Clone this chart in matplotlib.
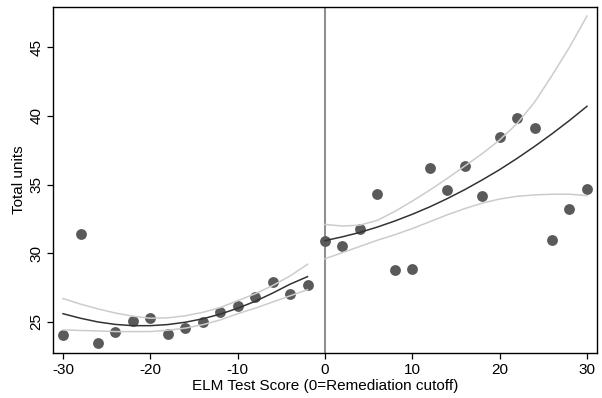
import numpy as np
import matplotlib.pyplot as plt

plt.rcParams['font.family'] = ['Liberation Sans', 'DejaVu Sans']
plt.rcParams['axes.unicode_minus'] = False

# binned means of total units by ELM score
x_left = [-30, -28, -26, -24, -22, -20, -18, -16, -14, -12, -10, -8, -6, -4, -2]
y_left = [24.05, 31.4, 23.45, 24.3, 25.1, 25.3, 24.1, 24.55, 25.0, 25.7, 26.15, 26.8, 27.9, 27.05, 27.7]
x_right = [0, 2, 4, 6, 8, 10, 12, 14, 16, 18, 20, 22, 24, 26, 28, 30]
y_right = [30.9, 30.5, 31.75, 34.3, 28.8, 28.85, 36.2, 34.6, 36.35, 34.2, 38.5, 39.85, 39.15, 31.0, 33.25, 34.7]

# fitted values and confidence bands on each side of the cutoff
fit_left = [25.6, 25.27, 25.0, 24.82, 24.73, 24.73, 24.81, 24.98, 25.23, 25.57, 26.0, 26.5, 27.1, 27.75, 28.3]
hi_left = [26.7, 26.3, 25.95, 25.65, 25.42, 25.27, 25.3, 25.45, 25.7, 26.05, 26.55, 27.05, 27.65, 28.35, 29.2]
lo_left = [24.42, 24.38, 24.35, 24.3, 24.3, 24.3, 24.4, 24.55, 24.8, 25.15, 25.6, 26.0, 26.45, 26.9, 27.35]
fit_right = [30.92, 31.2, 31.52, 31.91, 32.35, 32.84, 33.38, 33.98, 34.63, 35.34, 36.09, 36.91, 37.78, 38.7, 39.67, 40.7]
hi_right = [32.1, 31.98, 32.05, 32.4, 33.05, 33.8, 34.6, 35.45, 36.35, 37.25, 38.25, 39.45, 41.0, 42.95, 45.0, 47.27]
lo_right = [29.6, 30.05, 30.5, 30.95, 31.35, 31.8, 32.3, 32.8, 33.25, 33.65, 33.95, 34.15, 34.25, 34.3, 34.3, 34.2]

fig = plt.figure(figsize=(6.02, 3.98), dpi=100)
ax = fig.add_axes([53/602, 45/398, 544/602, 346/398])

ax.axvline(0, color='#909090', lw=1.5, zorder=1)
ax.plot(x_left, y_left, 'o', color='#5a5a5a', ms=7.8, mec='none', zorder=2)
ax.plot(x_right, y_right, 'o', color='#5a5a5a', ms=7.8, mec='none', zorder=2)

for xs, fit, hi, lo in [(x_left, fit_left, hi_left, lo_left),
                        (x_right, fit_right, hi_right, lo_right)]:
    ax.plot(xs, hi, color='#cccccc', lw=1.1, zorder=3)
    ax.plot(xs, lo, color='#cccccc', lw=1.1, zorder=3)
    ax.plot(xs, fit, color='#333333', lw=1.1, zorder=4)

ax.set_xlim(-31.15, 31.15)
ax.set_ylim(22.74, 47.93)
ax.set_xticks([-30, -20, -10, 0, 10, 20, 30])
ax.set_yticks([25, 30, 35, 40, 45])
ax.tick_params(direction='out', length=4, width=0.9, labelsize=11, colors='black')
ax.tick_params(axis='y', pad=3)
plt.setp(ax.get_yticklabels(), rotation=90, va='center')
for s in ax.spines.values():
    s.set_linewidth(1.0)

ax.set_xlabel('ELM Test Score (0=Remediation cutoff)', fontsize=11, labelpad=1)
ax.set_ylabel('Total units', fontsize=11, labelpad=2)

fig.savefig('out.png', dpi=100)
